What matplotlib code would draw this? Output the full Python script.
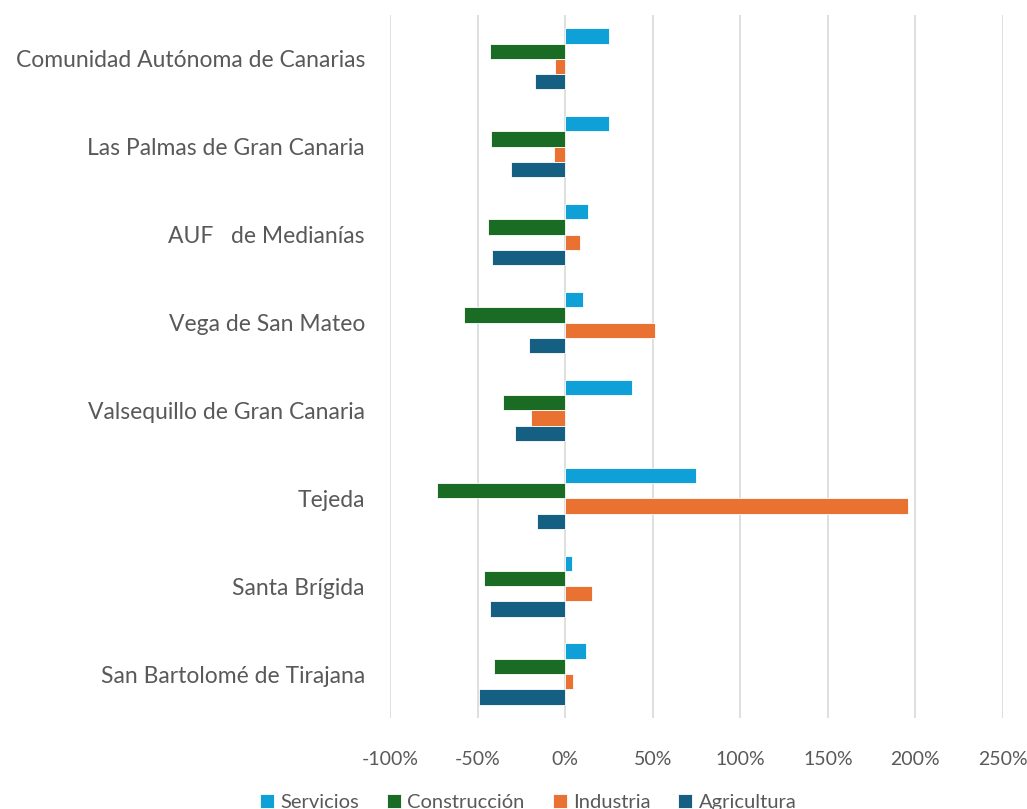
import matplotlib
matplotlib.use('Agg')
import matplotlib.pyplot as plt
import numpy as np
from matplotlib.ticker import FuncFormatter

plt.rcParams['font.family'] = ['Lato', 'DejaVu Sans']

# Data (variation by sector)
municipios = ["Comunidad Autónoma de Canarias", "Las Palmas de Gran Canaria",
              "AUF   de Medianías", "Vega de San Mateo", "Valsequillo de Gran Canaria",
              "Tejeda", "Santa Brígida", "San Bartolomé de Tirajana"]
servicios = [0.25, 0.25, 0.13, 0.10, 0.38, 0.75, 0.04, 0.12]
construccion = [-0.43, -0.425, -0.44, -0.58, -0.355, -0.73, -0.465, -0.405]
industria = [-0.057, -0.065, 0.084, 0.516, -0.196, 1.96, 0.154, 0.043]
agricultura = [-0.17, -0.307, -0.417, -0.206, -0.284, -0.158, -0.43, -0.49]

series = [("Servicios", servicios, "#0FA0D8"),
          ("Construcción", construccion, "#1A6B23"),
          ("Industria", industria, "#E97132"),
          ("Agricultura", agricultura, "#156082")]

fig = plt.figure(figsize=(10.27, 8.09), dpi=100)
ax = fig.add_axes([0.3797, 0.1125, 0.5969, 0.869])

y = np.arange(len(municipios))
h = 0.174
for i, (name, vals, col) in enumerate(series):
    ax.barh(y + (i - 1.5) * h, vals, height=h, color=col, label=name,
            edgecolor='white', linewidth=0.6, zorder=3)

ax.set_ylim(len(municipios) - 0.5, -0.5)
ax.set_xlim(-1.0, 2.5)
ax.set_xticks(np.arange(-1.0, 2.51, 0.5))
ax.xaxis.set_major_formatter(FuncFormatter(lambda v, p: f"{v * 100:.0f}%"))
ax.set_yticks(y)
ax.set_yticklabels(municipios)
ax.tick_params(axis='y', length=0, pad=18, labelsize=16.5, labelcolor='#595959')
ax.tick_params(axis='x', length=0, pad=24, labelsize=14, labelcolor='#595959')
ax.grid(axis='x', color='#D9D9D9', linewidth=1.2, zorder=0)
for s in ax.spines.values():
    s.set_visible(False)

fig.legend(loc='center', bbox_to_anchor=(528 / 1027, 0.008), ncol=4,
           frameon=False, fontsize=14.5, labelcolor='#595959',
           handlelength=0.7, handleheight=0.7, handletextpad=0.3,
           columnspacing=1.4)

fig.savefig('out.png', dpi=100)
